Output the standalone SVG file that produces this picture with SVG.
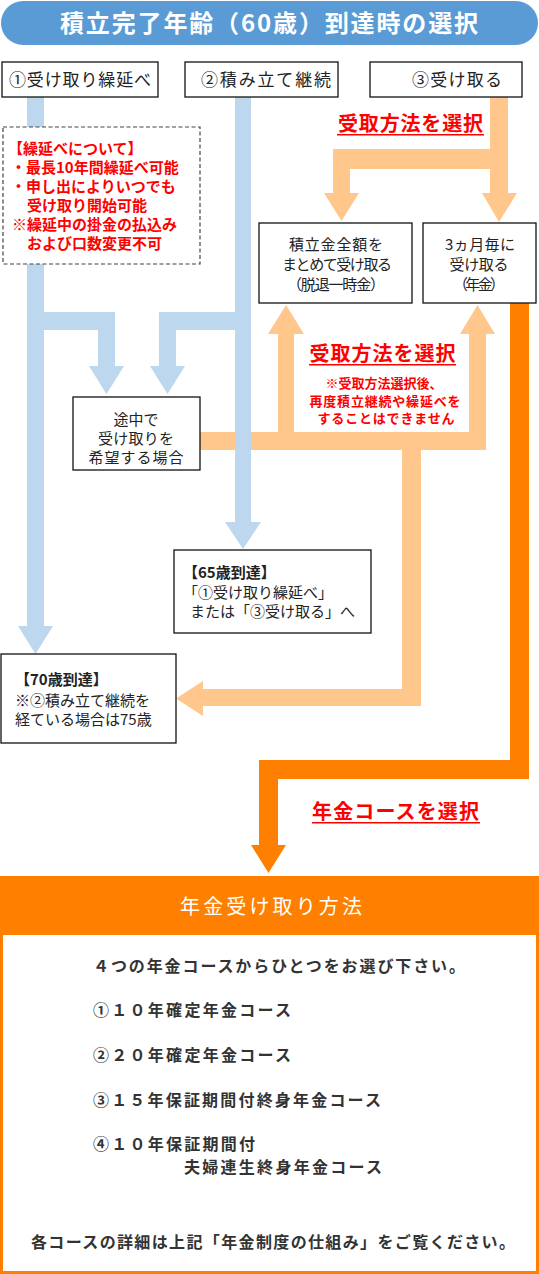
<svg xmlns="http://www.w3.org/2000/svg" width="539" height="1274" viewBox="0 0 539 1274">
<style>
text{font-family:"Noto Sans CJK JP","Noto Sans",sans-serif;}
.box{fill:#fff;stroke:#111;stroke-width:1.3;}
.dash{fill:#fff;stroke:#444;stroke-width:1.2;stroke-dasharray:4 2.5;}
.t{font-size:15px;fill:#222;}
.lab{font-size:17px;fill:#222;text-anchor:middle;}
.c{text-anchor:middle;}
.red{fill:#FF0000;font-weight:bold;}
.big{font-size:20px;}
.note{font-size:13px;text-anchor:middle;}
.bl{fill:#BDD7EE;}
.lo{fill:#FFC78C;}
.do{fill:#FF8000;}
.bt{font-size:16px;font-weight:bold;fill:#333;}
</style>
<g id="title">
<rect x="1" y="1" width="537" height="44" rx="22" fill="#5B9BD5"/>
<text x="269" y="32" font-size="24" font-weight="bold" fill="#fff" text-anchor="middle" textLength="418" lengthAdjust="spacing">積立完了年齢（60歳）到達時の選択</text>
</g>
<g id="connectors">
<g id="light-orange" class="lo">
<rect x="490" y="97" width="18" height="97"/>
<rect x="333" y="149" width="175" height="20"/>
<rect x="333" y="149" width="17" height="45"/>
<polygon points="324,193 359,193 341.5,221"/>
<polygon points="482,193 517,193 499,222"/>
<rect x="200" y="432" width="286" height="18"/>
<rect x="278" y="333" width="16" height="117"/>
<polygon points="268,334 304,334 286,305"/>
<rect x="469" y="333" width="17" height="117"/>
<polygon points="460,334 495,334 477.5,305"/>
<rect x="402" y="432" width="19" height="274"/>
<rect x="202" y="689" width="219" height="17"/>
<polygon points="203,681 203,716 176,698.5"/>
</g>
<g id="blue" class="bl">
<rect x="27" y="97" width="17" height="530"/>
<polygon points="18,626 53,626 35.5,654"/>
<rect x="44" y="312" width="71" height="18"/>
<rect x="98" y="312" width="17" height="55"/>
<polygon points="89,366 124,366 106.5,394"/>
<rect x="235" y="97" width="16" height="426"/>
<polygon points="225,522 261,522 243,549"/>
<rect x="159" y="312" width="76" height="18"/>
<rect x="159" y="312" width="17" height="55"/>
<polygon points="150,366 185,366 167.5,394"/>
</g>
<g id="dark-orange" class="do">
<rect x="510" y="303" width="19" height="476"/>
<rect x="259" y="760" width="270" height="19"/>
<rect x="259" y="760" width="19" height="86"/>
<polygon points="251,845 286,845 268.5,873"/>
</g>
</g>
<g id="label-select1">
<text class="red big c" x="410.5" y="131" textLength="145" lengthAdjust="spacing">受取方法を選択</text>
<rect x="337" y="134" width="147" height="1.5" fill="#FF0000"/>
</g>
<g id="label-select2">
<text class="red big c" x="382.5" y="361" textLength="146" lengthAdjust="spacing">受取方法を選択</text>
<rect x="309" y="364" width="147" height="1.5" fill="#FF0000"/>
<text class="red note" x="384" y="388" textLength="117" lengthAdjust="spacing">※受取方法選択後、</text>
<text class="red note" x="385" y="406" textLength="151" lengthAdjust="spacing">再度積立継続や繰延べを</text>
<text class="red note" x="386" y="423" textLength="137" lengthAdjust="spacing">することはできません</text>
</g>
<g id="label-select3">
<text class="red big c" x="395.5" y="819" textLength="167" lengthAdjust="spacing">年金コースを選択</text>
<rect x="312" y="822" width="168" height="1.5" fill="#FF0000"/>
</g>
<g id="n1">
<rect class="box" x="2" y="62" width="156" height="35"/>
<text class="lab" x="80" y="86" textLength="142" lengthAdjust="spacing">①受け取り繰延べ</text>
</g>
<g id="n2">
<rect class="box" x="185" y="62" width="153" height="35"/>
<text class="lab" x="266" y="86" textLength="130" lengthAdjust="spacing">②積み立て継続</text>
</g>
<g id="n3">
<rect class="box" x="370" y="62" width="152" height="35"/>
<text class="lab" x="457" y="86" textLength="90" lengthAdjust="spacing">③受け取る</text>
</g>
<g id="n-defer-note">
<rect class="dash" x="3" y="127" width="197" height="137"/>
<g class="red" font-size="15">
<text x="8" y="154">【繰延べについて】</text>
<text x="11" y="173">・最長10年間繰延べ可能</text>
<text x="11" y="192">・申し出によりいつでも</text>
<text x="27" y="211">受け取り開始可能</text>
<text x="12" y="230">※繰延中の掛金の払込み</text>
<text x="27" y="249">および口数変更不可</text>
</g>
</g>
<g id="n-lump">
<rect class="box" x="259" y="223" width="153" height="80"/>
<text class="t c" x="336" y="250" textLength="94" lengthAdjust="spacing">積立金全額を</text>
<text class="t c" x="337" y="270" textLength="110" lengthAdjust="spacing">まとめて受け取る</text>
<text class="t c" x="336" y="290" textLength="98" lengthAdjust="spacing">（脱退一時金）</text>
</g>
<g id="n-annuity">
<rect class="box" x="423" y="223" width="113" height="80"/>
<text class="t c" x="480" y="250" textLength="70" lengthAdjust="spacing">3ヵ月毎に</text>
<text class="t c" x="479" y="270" textLength="59" lengthAdjust="spacing">受け取る</text>
<text class="t c" x="479" y="290" textLength="52" lengthAdjust="spacing">（年金）</text>
</g>
<g id="n-midway">
<rect class="box" x="73" y="397" width="127" height="73"/>
<text class="t c" x="136" y="425" textLength="45" lengthAdjust="spacing">途中で</text>
<text class="t c" x="136" y="444" textLength="76" lengthAdjust="spacing">受け取りを</text>
<text class="t c" x="136" y="463" textLength="95" lengthAdjust="spacing">希望する場合</text>
</g>
<g id="n-65">
<rect class="box" x="174" y="550" width="197" height="83"/>
<text class="t" x="183" y="578" font-weight="bold">【65歳到達】</text>
<text class="t" x="183" y="598">「①受け取り繰延べ」</text>
<text class="t" x="190" y="617">または「③受け取る」へ</text>
</g>
<g id="n-70">
<rect class="box" x="1" y="654" width="175" height="89"/>
<text class="t" x="15" y="685" font-weight="bold">【70歳到達】</text>
<text class="t" x="15" y="706">※②積み立て継続を</text>
<text class="t" x="15" y="725">経ている場合は75歳</text>
</g>
<g id="n-pension">
<rect x="0" y="876" width="539" height="398" fill="#FF8000"/>
<rect x="3" y="935" width="533" height="336" fill="#fff"/>
<text x="271" y="914" font-size="20" fill="#fff" text-anchor="middle" textLength="182" lengthAdjust="spacing">年金受け取り方法</text>
<text class="bt" x="93" y="972" textLength="372" lengthAdjust="spacing">４つの年金コースからひとつをお選び下さい。</text>
<text class="bt" x="93" y="1016" textLength="198" lengthAdjust="spacing">①１０年確定年金コース</text>
<text class="bt" x="93" y="1061" textLength="198" lengthAdjust="spacing">②２０年確定年金コース</text>
<text class="bt" x="93" y="1106" textLength="288" lengthAdjust="spacing">③１５年保証期間付終身年金コース</text>
<text class="bt" x="93" y="1150" textLength="162" lengthAdjust="spacing">④１０年保証期間付</text>
<text class="bt" x="184" y="1173" textLength="198" lengthAdjust="spacing">夫婦連生終身年金コース</text>
<text class="bt" x="31" y="1248" textLength="484" lengthAdjust="spacing">各コースの詳細は上記「年金制度の仕組み」をご覧ください。</text>
</g>
</svg>
